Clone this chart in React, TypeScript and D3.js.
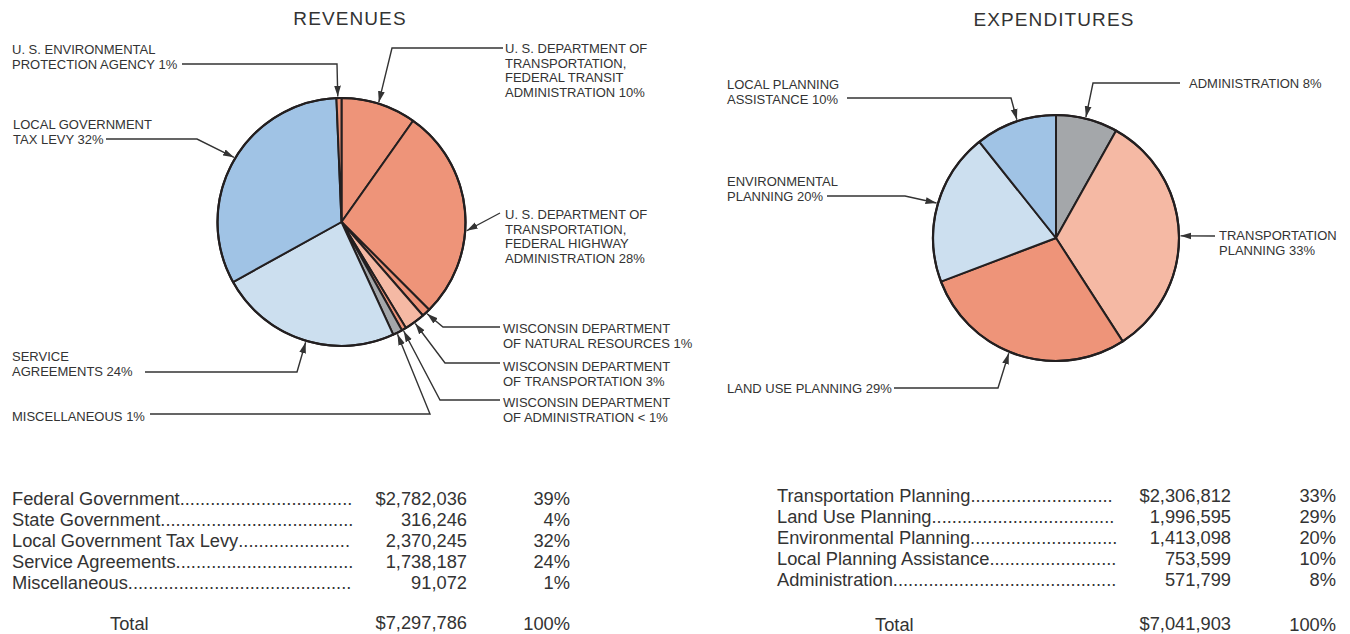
import React, { useEffect, useRef } from "react";
import * as d3 from "d3";

// ---------- DATA ----------
const revenueSlices = [
  "U.S. DOT Federal Transit Administration",
  "U.S. DOT Federal Highway Administration",
  "Wisconsin Department of Natural Resources",
  "Wisconsin Department of Transportation",
  "Wisconsin Department of Administration",
  "Miscellaneous",
  "Service Agreements",
  "Local Government Tax Levy",
  "U.S. Environmental Protection Agency",
];
const revenueShares = [9.8, 27.7, 1.1, 2.7, 0.6, 1.25, 23.8, 32.4, 0.65];
const revenueLabelLines = [
  ["U. S. DEPARTMENT OF", "TRANSPORTATION,", "FEDERAL TRANSIT", "ADMINISTRATION 10%"],
  ["U. S. DEPARTMENT OF", "TRANSPORTATION,", "FEDERAL HIGHWAY", "ADMINISTRATION 28%"],
  ["WISCONSIN DEPARTMENT", "OF NATURAL RESOURCES 1%"],
  ["WISCONSIN DEPARTMENT", "OF TRANSPORTATION 3%"],
  ["WISCONSIN DEPARTMENT", "OF ADMINISTRATION < 1%"],
  ["MISCELLANEOUS 1%"],
  ["SERVICE", "AGREEMENTS 24%"],
  ["LOCAL GOVERNMENT", "TAX LEVY 32%"],
  ["U. S. ENVIRONMENTAL", "PROTECTION AGENCY 1%"],
];

const expenditureSlices = [
  "Administration",
  "Transportation Planning",
  "Land Use Planning",
  "Environmental Planning",
  "Local Planning Assistance",
];
const expenditureValues = [571799, 2306812, 1996595, 1413098, 753599];
const expenditureLabelLines = [
  ["ADMINISTRATION 8%"],
  ["TRANSPORTATION", "PLANNING 33%"],
  ["LAND USE PLANNING 29%"],
  ["ENVIRONMENTAL", "PLANNING 20%"],
  ["LOCAL PLANNING", "ASSISTANCE  10%"],
];

const revenueTableCategories = [
  "Federal Government",
  "State Government",
  "Local Government Tax Levy",
  "Service Agreements",
  "Miscellaneous",
];
const revenueTableAmounts = [2782036, 316246, 2370245, 1738187, 91072];
const revenueTablePercents = [39, 4, 32, 24, 1];
const revenueTotal = 7297786;

const expenditureTableCategories = [
  "Transportation Planning",
  "Land Use Planning",
  "Environmental Planning",
  "Local Planning Assistance",
  "Administration",
];
const expenditureTableAmounts = [2306812, 1996595, 1413098, 753599, 571799];
const expenditureTablePercents = [33, 29, 20, 10, 8];
const expenditureTotal = 7041903;

// ---------- STYLE / LAYOUT ----------
const SALMON = "#EE9479";
const LIGHT_SALMON = "#F5B9A4";
const LIGHT_BLUE = "#CCDFEF";
const BLUE = "#A0C3E5";
const GREY = "#A4A7AA";
const INK = "#231F20";
const TEXT = "#333333";
const FONT = "'Liberation Sans', Arial, Helvetica, sans-serif";

const revenueColors = [SALMON, SALMON, SALMON, LIGHT_SALMON, SALMON, GREY, LIGHT_BLUE, BLUE, SALMON];
const expenditureColors = [GREY, LIGHT_SALMON, SALMON, LIGHT_BLUE, BLUE];

type LabelLayout = { x: number; y: number; path: [number, number][]; tip: number };

const revenueLayout: LabelLayout[] = [
  { x: 505, y: 53, path: [[503, 48], [392, 48]], tip: 17.3 },
  { x: 505, y: 219, path: [[500, 213]], tip: 94 },
  { x: 503, y: 333, path: [[500, 327], [443, 327]], tip: 137 },
  { x: 503, y: 371, path: [[500, 363], [445, 363]], tip: 144 },
  { x: 503, y: 407, path: [[500, 400], [440, 400]], tip: 150.3 },
  { x: 12, y: 421, path: [[150, 414], [430, 414]], tip: 153.5 },
  { x: 12, y: 361, path: [[145, 372], [297, 372]], tip: 196.6 },
  { x: 13, y: 129, path: [[106, 139], [197, 139]], tip: 301 },
  { x: 12, y: 54, path: [[182, 64], [337, 64]], tip: 358.3 },
];

const expenditureLayout: LabelLayout[] = [
  { x: 1189, y: 88, path: [[1180, 83], [1093, 83]], tip: 13.9 },
  { x: 1219, y: 240, path: [[1215, 236]], tip: 89 },
  { x: 727, y: 393, path: [[894, 388], [998, 388]], tip: 202.3 },
  { x: 727, y: 186, path: [[827, 196], [905, 196]], tip: 286.3 },
  { x: 727, y: 89, path: [[847, 98], [1011, 98]], tip: 341.7 },
];

const LINE_GAP = 14.6;

function drawPie(
  svg: d3.Selection<SVGSVGElement, unknown, null, undefined>,
  values: number[],
  colors: string[],
  labels: string[][],
  layout: LabelLayout[],
  cx: number,
  cy: number,
  r: number
) {
  const g = svg.append("g");
  const pie = d3.pie<number>().sort(null).value((d) => d);
  const arc = d3.arc<d3.PieArcDatum<number>>().innerRadius(0).outerRadius(r);
  const arcs = pie(values);
  const pg = g.append("g").attr("transform", `translate(${cx},${cy})`);
  pg.selectAll("path")
    .data(arcs)
    .join("path")
    .attr("d", arc)
    .attr("fill", (_, i) => colors[i])
    .attr("stroke", INK)
    .attr("stroke-width", 2)
    .attr("stroke-linejoin", "round");
  pg.append("circle").attr("r", r).attr("fill", "none").attr("stroke", INK).attr("stroke-width", 2.2);

  const line = d3.line();
  layout.forEach((l, i) => {
    const [tx, ty] = d3.pointRadial((l.tip * Math.PI) / 180, r + 1.5);
    const pts: [number, number][] = [...l.path, [cx + tx, cy + ty]];
    g.append("path")
      .attr("d", line(pts))
      .attr("fill", "none")
      .attr("stroke", "#333333")
      .attr("stroke-width", 1.4)
      .attr("marker-end", "url(#arrow)");
    const t = g
      .append("text")
      .attr("x", l.x)
      .attr("y", l.y)
      .attr("font-size", 13)
      .attr("fill", TEXT)
      .attr("font-family", FONT);
    labels[i].forEach((ln, j) => {
      t.append("tspan").attr("x", l.x).attr("y", l.y + j * LINE_GAP).text(ln);
    });
  });
}

function drawTable(
  svg: d3.Selection<SVGSVGElement, unknown, null, undefined>,
  cats: string[],
  amounts: number[],
  percents: number[],
  total: number,
  x0: number,
  dotEnd: number,
  amountRight: number,
  pctRight: number,
  y0: number,
  totalX: number,
  totalY: number
) {
  const g = svg.append("g").attr("font-family", FONT).attr("font-size", 18.3).attr("fill", TEXT);
  const fmt = d3.format(",");
  cats.forEach((c, i) => {
    const y = y0 + i * 21;
    const t = g.append("text").attr("x", x0).attr("y", y).text(c);
    const w = (t.node() as SVGTextElement).getComputedTextLength();
    const d = g.append("text").attr("x", x0 + w).attr("y", y).text(".");
    const dw = (d.node() as SVGTextElement).getComputedTextLength();
    const n = Math.max(0, Math.floor((dotEnd - x0 - w) / dw));
    d.text(".".repeat(n));
    g.append("text")
      .attr("x", amountRight)
      .attr("y", y)
      .attr("text-anchor", "end")
      .text((i === 0 ? "$" : "") + fmt(amounts[i]));
    g.append("text")
      .attr("x", pctRight)
      .attr("y", y)
      .attr("text-anchor", "end")
      .text(percents[i] + "%");
  });
  g.append("text").attr("x", totalX).attr("y", totalY).text("Total");
  g.append("text").attr("x", amountRight).attr("y", totalY - 1).attr("text-anchor", "end").text("$" + fmt(total));
  g.append("text").attr("x", pctRight).attr("y", totalY).attr("text-anchor", "end").text("100%");
}

export default function App() {
  const ref = useRef<SVGSVGElement>(null);
  useEffect(() => {
    const svg = d3.select(ref.current as SVGSVGElement);
    svg.selectAll("*").remove();
    svg.append("rect").attr("width", 1350).attr("height", 634).attr("fill", "#ffffff");
    const defs = svg.append("defs");
    defs
      .append("marker")
      .attr("id", "arrow")
      .attr("markerUnits", "userSpaceOnUse")
      .attr("markerWidth", 12)
      .attr("markerHeight", 8)
      .attr("refX", 11)
      .attr("refY", 4)
      .attr("orient", "auto")
      .append("path")
      .attr("d", "M0,0.6 L11,4 L0,7.4 Z")
      .attr("fill", "#333333");

    svg
      .append("text")
      .attr("x", 350)
      .attr("y", 25)
      .attr("text-anchor", "middle")
      .attr("font-family", FONT)
      .attr("font-size", 19)
      .attr("letter-spacing", 1.1)
      .attr("fill", TEXT)
      .text("REVENUES");
    svg
      .append("text")
      .attr("x", 1054)
      .attr("y", 26)
      .attr("text-anchor", "middle")
      .attr("font-family", FONT)
      .attr("font-size", 19)
      .attr("letter-spacing", 1.1)
      .attr("fill", TEXT)
      .text("EXPENDITURES");

    drawPie(svg, revenueShares, revenueColors, revenueLabelLines, revenueLayout, 341.5, 222, 124);
    drawPie(svg, expenditureValues, expenditureColors, expenditureLabelLines, expenditureLayout, 1056, 238, 123);

    drawTable(svg, revenueTableCategories, revenueTableAmounts, revenueTablePercents, revenueTotal, 12, 355, 467, 570, 505, 110, 630);
    drawTable(svg, expenditureTableCategories, expenditureTableAmounts, expenditureTablePercents, expenditureTotal, 777, 1118, 1231, 1336, 502, 875, 631);
  }, []);
  return (
    <svg
      ref={ref}
      width={1350}
      height={634}
      style={{ position: "absolute", left: 0, top: 0, display: "block" }}
    />
  );
}
